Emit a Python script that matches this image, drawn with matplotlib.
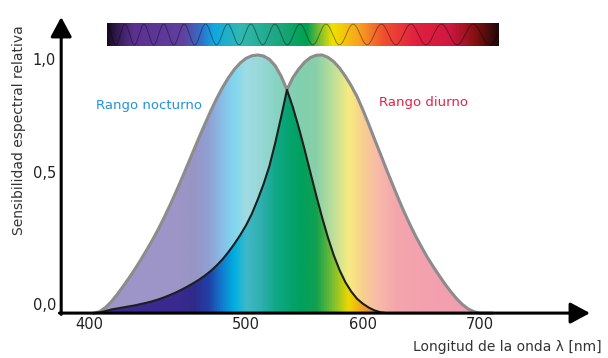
import numpy as np
import matplotlib
matplotlib.use("Agg")
import matplotlib.pyplot as plt
from matplotlib.colors import LinearSegmentedColormap, to_rgb
from matplotlib.patches import Polygon

# wavelengths (nm), 5 nm steps, and relative sensitivity
wavelength = np.arange(370, 715, 5)
night = [0.0, 0.006, 0.022, 0.045, 0.073, 0.104, 0.136, 0.170, 0.206, 0.244,
         0.283, 0.325, 0.370, 0.418, 0.468, 0.520, 0.574, 0.628, 0.682, 0.734,
         0.785, 0.832, 0.875, 0.912, 0.944, 0.969, 0.987, 0.997, 1.0, 0.996,
         0.983, 0.958, 0.918, 0.865, 0.798, 0.720, 0.635, 0.545, 0.456, 0.371,
         0.293, 0.224, 0.166, 0.119, 0.083, 0.055, 0.036, 0.021, 0.010, 0.003,
         0.0, 0.0, 0.0, 0.0, 0.0, 0.0, 0.0, 0.0, 0.0, 0.0,
         0.0, 0.0, 0.0, 0.0, 0.0, 0.0, 0.0, 0.0, 0.0]
day = [0.0, 0.002, 0.008, 0.014, 0.018, 0.022, 0.026, 0.030, 0.035, 0.040,
       0.046, 0.053, 0.061, 0.070, 0.080, 0.091, 0.103, 0.116, 0.130, 0.146,
       0.164, 0.185, 0.209, 0.237, 0.268, 0.302, 0.340, 0.385, 0.440, 0.500,
       0.570, 0.660, 0.760, 0.865, 0.912, 0.945, 0.972, 0.990, 0.999, 1.0,
       0.991, 0.974, 0.949, 0.917, 0.880, 0.838, 0.786, 0.730, 0.672, 0.615,
       0.557, 0.501, 0.446, 0.393, 0.344, 0.298, 0.256, 0.216, 0.180, 0.146,
       0.113, 0.083, 0.056, 0.033, 0.016, 0.005, 0.0, 0.0, 0.0]

xtick_pos = [366, 500, 600, 700]
xtick_labels = ["400", "500", "600", "700"]
ytick_pos = [0.03, 0.54, 0.98]
ytick_labels = ["0,0", "0,5", "1,0"]

# colour stops for the filled area and for the spectrum bar
fill_stops = [(370, "#3a2a90"), (440, "#3a2a90"), (455, "#302a88"), (468, "#2040a8"),
              (480, "#1080d0"), (490, "#00b0e0"), (500, "#40b8c8"), (512, "#30b0b0"),
              (525, "#10a888"), (545, "#00a060"), (560, "#10a050"), (575, "#80c030"),
              (588, "#f0d800"), (600, "#f0a020"), (612, "#f07850"), (630, "#e84a5a"),
              (660, "#e84060"), (710, "#e03a60")]
bar_stops = [(381, "#1a0a20"), (392, "#3a2060"), (403, "#5a3090"), (446, "#6040a0"),
             (461, "#3070c8"), (472, "#10a8e0"), (495, "#30b8b0"), (523, "#20a888"),
             (552, "#00a050"), (563, "#80c030"), (574, "#f0e000"), (597, "#f8a020"),
             (617, "#f05030"), (646, "#e02040"), (674, "#d01840"), (697, "#801010"),
             (716, "#200808")]


def make_cmap(stops):
    lo, hi = stops[0][0], stops[-1][0]
    return LinearSegmentedColormap.from_list(
        "spec", [((w - lo) / (hi - lo), to_rgb(c)) for w, c in stops]), lo, hi


wl = np.asarray(wavelength, dtype=float)
upper = np.maximum(night, day)
lower = np.minimum(night, day)

fig = plt.figure(figsize=(6.08, 3.58), dpi=100)
ax = fig.add_axes([0, 0, 1, 1])
ax.axis("off")

fill_cmap, f_lo, f_hi = make_cmap(fill_stops)
grad = np.linspace(0, 1, 512).reshape(1, -1)

outer = Polygon(np.column_stack([np.r_[wl, wl[::-1]], np.r_[upper, np.zeros_like(upper)]]),
                closed=True, facecolor="none", edgecolor="none", transform=ax.transData)
inner = Polygon(np.column_stack([np.r_[wl, wl[::-1]], np.r_[lower, np.zeros_like(lower)]]),
                closed=True, facecolor="none", edgecolor="none", transform=ax.transData)
ax.add_patch(outer)
ax.add_patch(inner)

im1 = ax.imshow(grad, cmap=fill_cmap, extent=[f_lo, f_hi, 0, 1.01], aspect="auto",
                alpha=0.5, zorder=1)
im1.set_clip_path(outer)
im2 = ax.imshow(grad, cmap=fill_cmap, extent=[f_lo, f_hi, 0, 1.01], aspect="auto", zorder=2)
im2.set_clip_path(inner)

ax.plot(wl, upper, color="#8c8c8c", lw=2.2, zorder=3, solid_joinstyle="round")
ax.plot(wl, lower, color="#1e1e1e", lw=1.5, zorder=4, solid_joinstyle="round")

# spectrum bar on top
bar_cmap, b_lo, b_hi = make_cmap(bar_stops)
ax.imshow(grad, cmap=bar_cmap, extent=[b_lo, b_hi, 1.035, 1.124], aspect="auto", zorder=2)
xs = np.linspace(b_lo + 1, b_hi - 1, 1500)
phase = 2 * np.pi * np.log(xs / b_lo) / 0.04
ax.plot(xs, 1.0795 + 0.04 * np.cos(phase), color="black", lw=0.7, alpha=0.4, zorder=3)

ax.set_xlim(289.7, 809.4)
ax.set_ylim(-0.174, 1.213)

# axes with arrows
arrow = dict(arrowstyle="-|>,head_length=0.8,head_width=0.43", mutation_scale=15,
             lw=2.2, color="black", shrinkA=0, shrinkB=0)
ax.annotate("", xy=(342, 1.147), xytext=(342, -0.005), arrowprops=arrow, zorder=6)
ax.annotate("", xy=(794, 0.0), xytext=(340.5, 0.0), arrowprops=arrow, zorder=6)

for pos, lab in zip(xtick_pos, xtick_labels):
    ax.text(pos, -0.043, lab, ha="center", va="center", fontsize=10.5, color="#222222")
for pos, lab in zip(ytick_pos, ytick_labels):
    ax.text(337.5, pos, lab, ha="right", va="center", fontsize=10.5, color="#222222")

ax.text(306, 0.709, "Sensibilidad espectral relativa", rotation=90, ha="center",
        va="center", fontsize=10, color="#333333")
ax.text(804, -0.132, "Longitud de la onda λ [nm]", ha="right", va="center",
        fontsize=10, color="#333333")
ax.text(417, 0.806, "Rango nocturno", ha="center", va="center", fontsize=9.5,
        color="#2192e0")
ax.text(652, 0.814, "Rango diurno", ha="center", va="center", fontsize=9.5,
        color="#e8204a")

fig.savefig("out.png", dpi=100)
